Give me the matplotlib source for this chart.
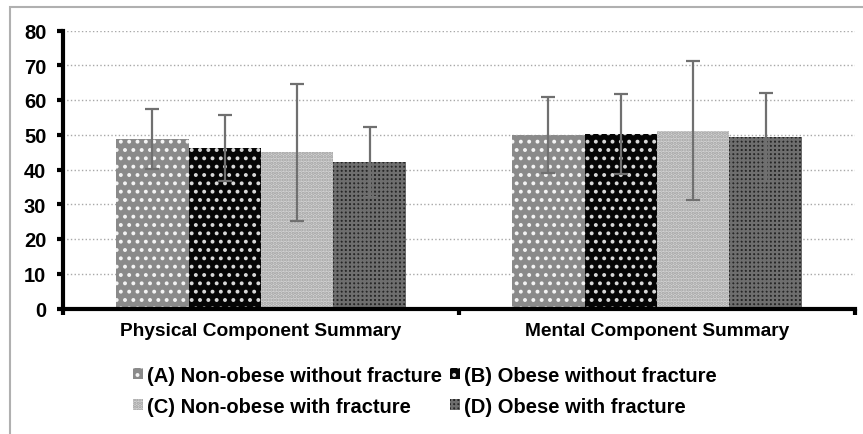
import matplotlib
matplotlib.use("Agg")
import matplotlib.pyplot as plt
import numpy as np
from matplotlib.patches import Rectangle

plt.rcParams['font.family'] = ['Liberation Sans', 'DejaVu Sans']
plt.rcParams['font.weight'] = 'bold'
plt.rcParams['hatch.linewidth'] = 1.6

categories = ["Physical Component Summary", "Mental Component Summary"]
groups = ["(A) Non-obese without fracture", "(B) Obese without fracture",
          "(C) Non-obese with fracture", "(D) Obese with fracture"]
means = {
    groups[0]: [48.7, 50.0],
    groups[1]: [46.1, 50.2],
    groups[2]: [44.9, 51.1],
    groups[3]: [42.1, 49.3],
}
sds = {
    groups[0]: [8.6, 11.0],
    groups[1]: [9.5, 11.5],
    groups[2]: [19.8, 20.0],
    groups[3]: [10.0, 12.7],
}
yticks = [0, 10, 20, 30, 40, 50, 60, 70, 80]

faces = ['#8a8a8a', '#050505', '#d4d4d4', '#262626']
hatchcol = ['#f4f4f4', '#d8d8d8', '#a0a0a0', '#6e6e6e']
hatches = ['..', '..', '.....', '++++']

fig = plt.figure(figsize=(8.63, 4.35), dpi=100)
fig.patches.append(Rectangle((10 / 863, -0.05), 1.2, (435 - 8) / 435 + 0.05,
                             transform=fig.transFigure,
                             fill=False, edgecolor='#b0b0b0', linewidth=1.5))
ax = fig.add_axes([63 / 863, (435 - 309.5) / 435, 792 / 863, 278 / 435])

x = np.arange(len(categories))
w = 0.183
bars = []
for i, g in enumerate(groups):
    pos = x + (i - 1.5) * w
    b = ax.bar(pos, means[g], w, color=faces[i], edgecolor=hatchcol[i], linewidth=0,
               hatch=hatches[i], label=g, zorder=2)
    bars.append(b)
    ax.errorbar(pos, means[g], yerr=sds[g], fmt='none', ecolor='#707070',
                elinewidth=1.6, capsize=5, capthick=1.6, zorder=3)

ax.set_xlim(-0.5, 1.5)
ax.set_ylim(0, 80)
ax.set_yticks(yticks)
ax.set_yticklabels([str(t) for t in yticks], fontsize=14.5, fontweight='bold')
ax.set_xticks([-0.5, 0.5, 1.5])
ax.set_xticklabels(['', '', ''])
ax.tick_params(axis='y', direction='out', length=4, width=3, pad=8)
ax.tick_params(axis='x', direction='out', length=4, width=3)
for i, c in enumerate(categories):
    ax.text(x[i], -4.0, c, ha='center', va='top', fontsize=13.8, fontweight='bold')
ax.grid(axis='y', linestyle=':', color='#a8a8a8', linewidth=1.0, zorder=0)
ax.set_axisbelow(True)
for s in ['top', 'right']:
    ax.spines[s].set_visible(False)
ax.spines['left'].set_linewidth(3)
ax.spines['bottom'].set_linewidth(3)

order = [0, 2, 1, 3]
leg = fig.legend([bars[k] for k in order], [groups[k] for k in order],
                 loc='upper center', bbox_to_anchor=(0.4925, 0.18), ncol=2, frameon=False,
                 prop={'size': 14.5, 'weight': 'bold', 'family': 'Liberation Sans'},
                 handlelength=0.5, handleheight=0.5, handletextpad=0.2,
                 columnspacing=0.4, labelspacing=0.6, borderpad=0)

fig.savefig("out.png", dpi=100)
